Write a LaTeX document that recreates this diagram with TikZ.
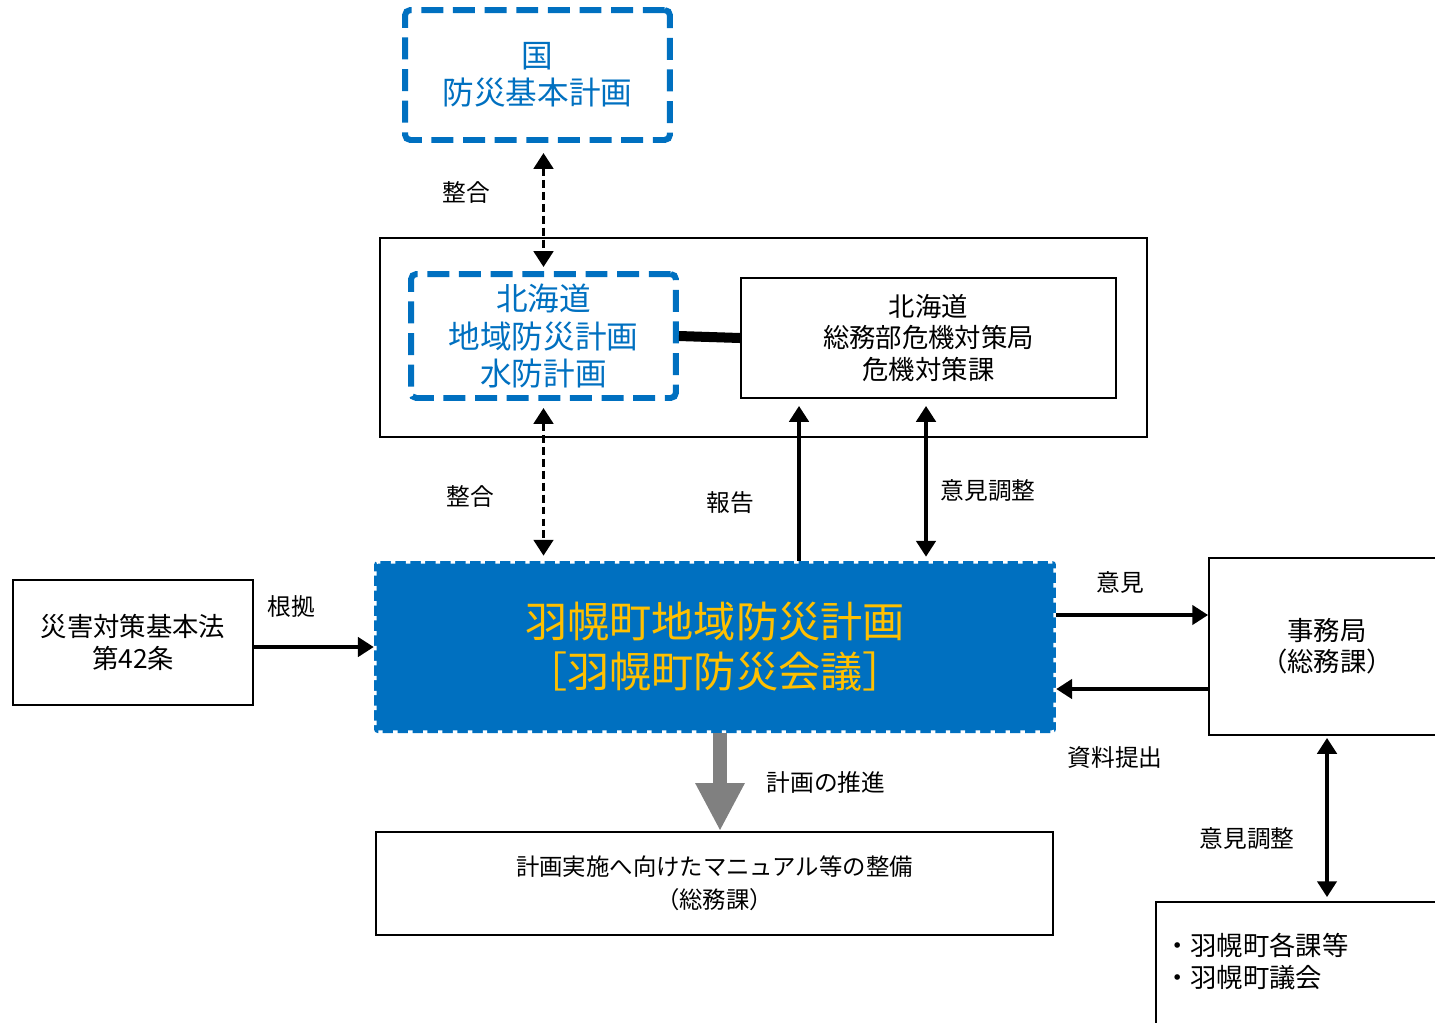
\documentclass[tikz,border=0pt]{standalone}
\usepackage{fontspec}
\setmainfont{Noto Sans CJK JP}
\usetikzlibrary{arrows.meta}

\definecolor{planblue}{RGB}{0,112,192}
\definecolor{plangold}{RGB}{255,192,0}
\definecolor{pushgray}{RGB}{128,128,128}

\tikzset{
  box/.style={draw, line width=1.1pt, align=center, inner sep=0pt, font=\fontsize{15}{17.8}\selectfont},
  plan/.style={draw=planblue, text=planblue, line width=3.4pt, dash pattern=on 12.5pt off 5.5pt,
    rounded corners=3pt, align=center, inner sep=0pt, font=\fontsize{18}{21.2}\selectfont},
  link/.style={line width=2pt, -{Triangle[width=11pt,length=9pt]}},
  both/.style={line width=2pt, {Triangle[width=11pt,length=9pt]}-{Triangle[width=11pt,length=9pt]}},
  loose/.style={dash pattern=on 4.5pt off 2.3pt},
  tag/.style={inner sep=0pt, font=\fontsize{13.5}{16}\selectfont},
}

\begin{document}
\begin{tikzpicture}[x=0.02cm, y=-0.02cm]
    \useasboundingbox (0,0) rectangle (1435,1022);

    % Define coordinates
    \coordinate (rep) at (799,0);
    \coordinate (adj) at (926,0);
    \coordinate (opy) at (0,615);
    \coordinate (shy) at (0,689);

    % Draw boxes
    \node[plan, minimum width=5.3cm, minimum height=2.6cm] (kuni) at (537.5,75)
        {国\\防災基本計画};
    \node[draw, line width=1.1pt, minimum width=15.34cm, minimum height=3.98cm] (dou) at (763.5,337.5) {};
    \node[plan, minimum width=5.3cm, minimum height=2.48cm] (hokkai) at (543.5,336)
        {北海道\\地域防災計画\\水防計画};
    \node[box, minimum width=7.5cm, minimum height=2.4cm] (kiki) at (928.5,338)
        {北海道\\総務部危機対策局\\危機対策課};
    \node[fill=planblue, text=plangold, rounded corners=2pt, align=center, inner sep=0pt,
        minimum width=13.64cm, minimum height=3.44cm, font=\fontsize{24}{28.5}\selectfont,
        postaction={draw=white, line width=3pt, dash pattern=on 2.5pt off 6pt}] (main) at (715,647)
        {羽幌町地域防災計画\\［羽幌町防災会議］};
    \node[box, minimum width=4.8cm, minimum height=2.5cm] (law) at (133,642.5)
        {災害対策基本法\\第42条};
    \node[box, minimum width=4.72cm, minimum height=3.54cm] (jimu) at (1327,646.5)
        {事務局\\（総務課）};
    \node[box, align=left, text width=5.56cm, inner xsep=0.16cm, minimum height=2.96cm] (kaka) at (1303,976)
        {・羽幌町各課等\\・羽幌町議会\\~};
    \node[box, minimum width=13.54cm, minimum height=2.06cm, font=\fontsize{13.3}{18.8}\selectfont] (seibi) at (714.5,883.5)
        {計画実施へ向けたマニュアル等の整備\\（総務課）};

    % Draw connectors
    \draw[both, loose] ([yshift=-0.2cm]kuni.south -| hokkai.north) -- ([yshift=0.08cm]hokkai.north);
    \draw[both, loose] ([yshift=-0.14cm]hokkai.south) -- ([yshift=0.1cm]main.north -| hokkai.south);
    \draw[line width=5.7pt] (hokkai.east) -- (kiki.west);
    \draw[link] (main.north -| rep) -- ([yshift=-0.14cm]kiki.south -| rep);
    \draw[both] ([yshift=-0.14cm]kiki.south -| adj) -- ([yshift=0.08cm]main.north -| adj);
    \draw[link] (law.east |- main.west) -- (main.west);
    \draw[link] (main.east |- opy) -- (jimu.west |- opy);
    \draw[link] (jimu.west |- shy) -- (main.east |- shy);
    \draw[both] ([yshift=-0.04cm]jimu.south) -- ([yshift=0.08cm]kaka.north -| jimu.south);
    \draw[pushgray, line width=0.28cm, -{Triangle[width=0.92cm,length=0.96cm]}] (main.south -| 720,0) -- (seibi.north -| 720,0);

    % Labels
    \node[tag] (l1) at (466,192) {整合};
    \node[tag] (l2) at (470,496) {整合};
    \node[tag] (l3) at (730,503) {報告};
    \node[tag] (l4) at (988,491) {意見調整};
    \node[tag] (l5) at (291,607) {根拠};
    \node[tag] (l6) at (1120,582) {意見};
    \node[tag] (l7) at (1115,758) {資料提出};
    \node[tag] (l8) at (1247,839) {意見調整};
    \node[tag] (l9) at (826,782) {計画の推進};

\end{tikzpicture}
\end{document}
